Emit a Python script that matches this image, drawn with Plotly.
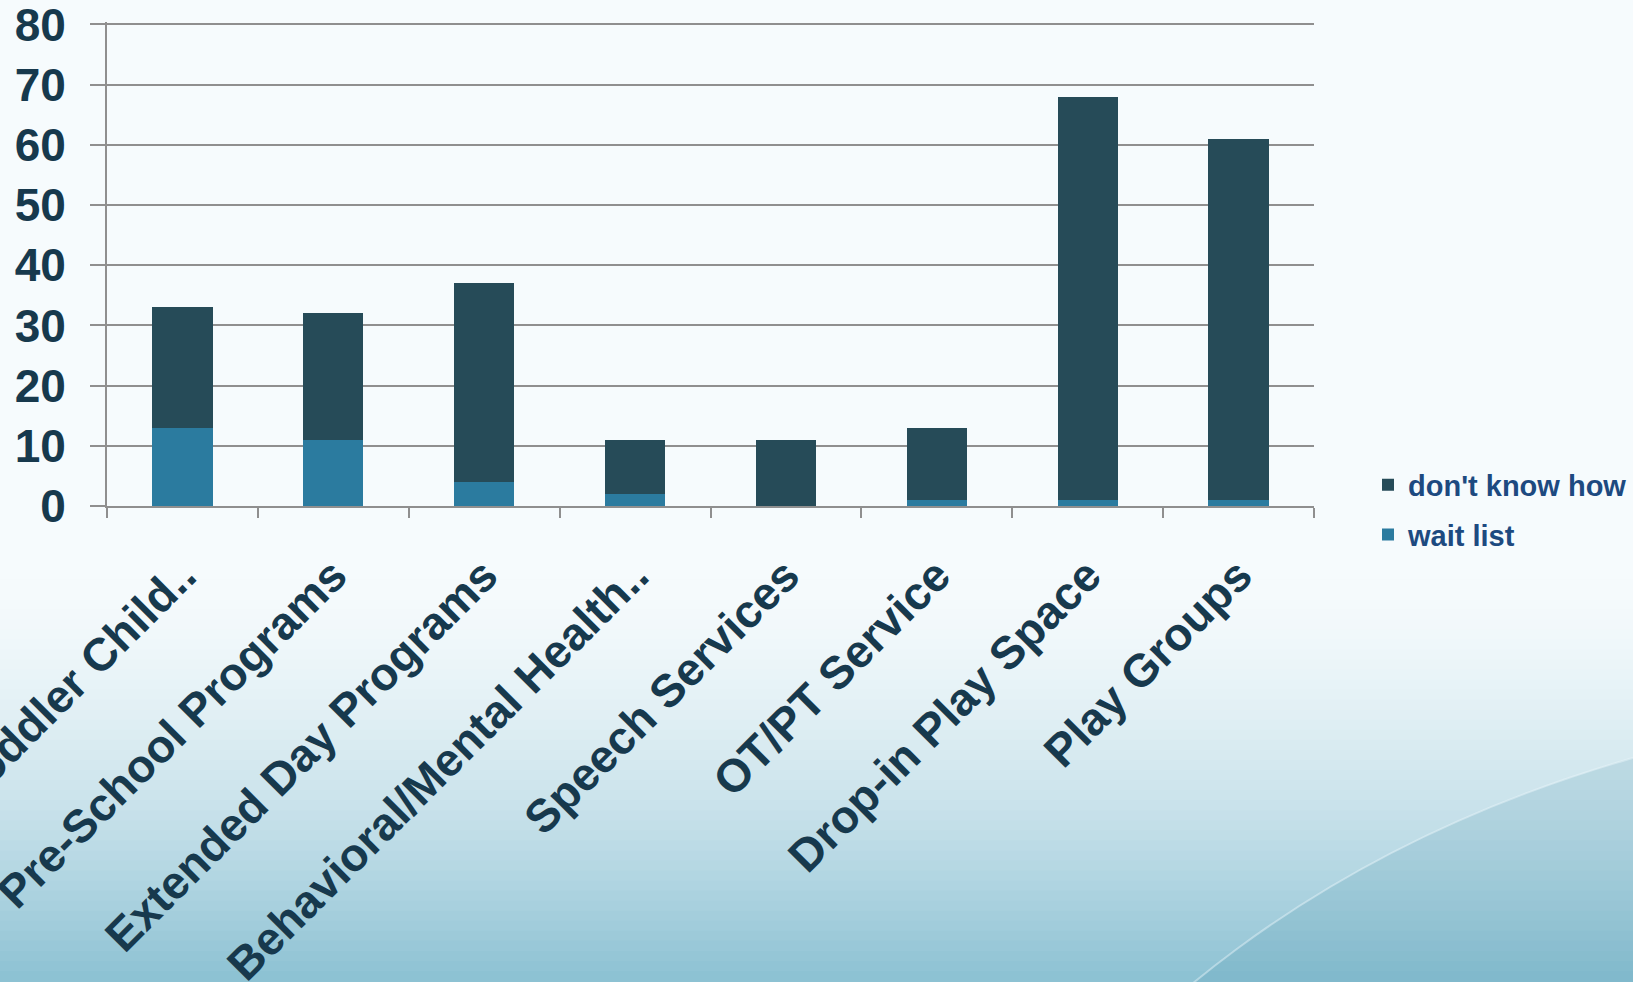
import plotly.graph_objects as go

categories = ["Infant/Toddler Child..", "Pre-School Programs", "Extended Day Programs",
              "Behavioral/Mental Health..", "Speech Services", "OT/PT Service",
              "Drop-in Play Space", "Play Groups"]
wait_list = [13, 11, 4, 2, 0, 1, 1, 1]
dont_know_how = [20, 21, 33, 9, 11, 12, 67, 60]
y_ticks = [0, 10, 20, 30, 40, 50, 60, 70, 80]

FONT = "Liberation Sans, Arial, sans-serif"
TXT = "#17394d"
GRID = "#8f8f8f"

fig = go.Figure()
fig.add_trace(go.Bar(x=categories, y=wait_list, name="wait list", legendrank=2,
                     legendgroup="g2",
                     marker=dict(color="#2b7b9f", line=dict(width=0))))
fig.add_trace(go.Bar(x=categories, y=dont_know_how, name="don't know how", legendrank=1,
                     legendgroup="g1",
                     marker=dict(color="#264b58", line=dict(width=0))))

# background gradient (styling only)
W, H = 1633, 982
L, R, T, B = 107, 319, 22, 476
pw, ph = W - L - R, H - T - B
def py2p(py):
    return (H - B - py) / ph
def px2p(px):
    return (px - L) / pw
x0p, x1p = px2p(0), px2p(W)
top_c = (246, 251, 253)
bot_c = (140, 193, 211)
start, end = 580, 982
n = 40
shapes = []
for i in range(n):
    y0 = start + (end - start) * i / n
    y1 = start + (end - start) * (i + 1) / n
    t = ((i + 0.5) / n) ** 1.5
    c = tuple(int(top_c[k] + (bot_c[k] - top_c[k]) * t) for k in range(3))
    shapes.append(dict(type="rect", xref="paper", yref="paper", x0=x0p, x1=x1p,
                       y0=py2p(y1), y1=py2p(y0) + 0.002,
                       fillcolor="rgb(%d,%d,%d)" % c, line=dict(width=0), layer="below"))
# soft darker teal swoosh at bottom right
shapes.append(dict(type="circle", xref="paper", yref="paper",
                   x0=px2p(900), x1=px2p(3200), y0=py2p(2400), y1=py2p(700),
                   fillcolor="rgba(70,140,165,0.16)", line=dict(color="rgba(235,247,251,0.45)", width=2),
                   layer="below"))

fig.update_layout(
    width=W, height=H,
    barmode="stack", bargap=0.6,
    paper_bgcolor="rgb(246,251,253)", plot_bgcolor="rgba(0,0,0,0)",
    margin=dict(l=L, r=R, t=T, b=B, autoexpand=False),
    font=dict(family=FONT, color=TXT),
    shapes=shapes,
    showlegend=True,
    legend=dict(x=px2p(1368), xanchor="left", y=py2p(510), yanchor="middle",
                traceorder="grouped", tracegroupgap=9, bgcolor="rgba(0,0,0,0)",
                font=dict(family=FONT, size=29, color="#1d4a80", weight="bold"),
                itemwidth=30),
)
fig.update_xaxes(
    type="category", automargin=False,
    tickangle=-45, tickfont=dict(family=FONT, size=46, color=TXT, weight="bold"),
    showline=True, linecolor=GRID, linewidth=2,
    ticks="outside", ticklen=10, tickcolor=GRID, tickwidth=2,
    tickson="boundaries", showgrid=False, ticklabelstandoff=22,
    ticklabeloverflow="allow",
)
fig.update_yaxes(
    range=[0, 80.4], tickvals=y_ticks, automargin=False,
    tickfont=dict(family=FONT, size=46, color=TXT, weight="bold"),
    showline=True, linecolor=GRID, linewidth=2,
    ticks="outside", ticklen=15, tickcolor=GRID, tickwidth=2,
    showgrid=True, gridcolor=GRID, gridwidth=2, zeroline=False,
    ticklabelstandoff=15, ticklabeloverflow="allow",
)
fig.write_html("out.html", config={"displayModeBar": False},
               post_script="document.body.style.margin='0';document.body.style.overflow='hidden';")
